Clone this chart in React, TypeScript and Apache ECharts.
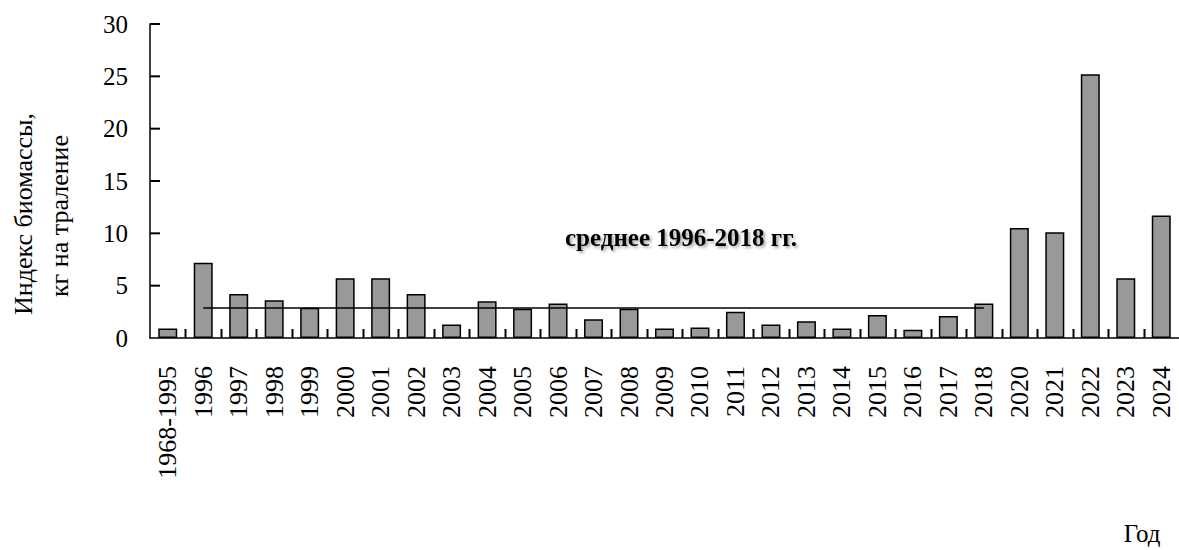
import React, { useEffect, useRef } from "react";
import * as echarts from "echarts";

const categories = [
  "1968-1995", "1996", "1997", "1998", "1999", "2000", "2001", "2002", "2003", "2004",
  "2005", "2006", "2007", "2008", "2009", "2010", "2011", "2012", "2013", "2014",
  "2015", "2016", "2017", "2018", "2020", "2021", "2022", "2023", "2024",
];
const biomass = [
  0.9, 7.2, 4.2, 3.6, 2.9, 5.7, 5.7, 4.2, 1.3, 3.5,
  2.8, 3.3, 1.8, 2.8, 0.9, 1.0, 2.5, 1.3, 1.6, 0.9,
  2.2, 0.8, 2.1, 3.3, 10.5, 10.1, 25.2, 5.7, 11.7,
];
const yTicks = [0, 5, 10, 15, 20, 25, 30];
const meanStart = "1996";
const meanEnd = "2018";
const meanLabel = "среднее 1996-2018 гг.";
const yTitle1 = "Индекс биомассы,";
const yTitle2 = "кг на траление";
const xTitle = "Год";

const FONT = "Liberation Serif";

export default function App() {
  const ref = useRef<HTMLDivElement>(null);
  useEffect(() => {
    if (!ref.current) return;
    const chart = echarts.init(ref.current, null, { renderer: "svg" });
    const i0 = categories.indexOf(meanStart);
    const i1 = categories.indexOf(meanEnd);
    const slice = biomass.slice(i0, i1 + 1);
    const mean = slice.reduce((a, b) => a + b, 0) / slice.length;

    const texts: any[] = [
      {
        type: "text",
        x: 23,
        y: 214,
        rotation: Math.PI / 2,
        style: { text: yTitle1, fontFamily: FONT, fontSize: 26, fill: "#000", align: "center", verticalAlign: "middle" },
      },
      {
        type: "text",
        x: 59,
        y: 216,
        rotation: Math.PI / 2,
        style: { text: yTitle2, fontFamily: FONT, fontSize: 26, fill: "#000", align: "center", verticalAlign: "middle" },
      },
      {
        type: "text",
        x: 681,
        y: 237,
        style: {
          text: meanLabel,
          fontFamily: FONT,
          fontSize: 25,
          fontWeight: "bold",
          fill: "#000",
          align: "center",
          verticalAlign: "middle",
          textShadowColor: "rgba(0,0,0,0.35)",
          textShadowBlur: 3,
          textShadowOffsetX: 2,
          textShadowOffsetY: 2,
        },
      },
      {
        type: "text",
        x: 1142,
        y: 533,
        style: { text: xTitle, fontFamily: FONT, fontSize: 25, fill: "#000", align: "center", verticalAlign: "middle" },
      },
    ];

    chart.setOption({
      animation: false,
      backgroundColor: "#ffffff",
      grid: { left: 150, top: 24, width: 1032, bottom: 212, containLabel: false },
      xAxis: {
        type: "category",
        data: categories,
        boundaryGap: true,
        axisLine: { show: true, lineStyle: { color: "#000", width: 1.5 } },
        axisTick: { show: false },
        axisLabel: {
          interval: 0,
          rotate: 90,
          margin: 28,
          color: "#000",
          fontFamily: FONT,
          fontSize: 26,
        },
        splitLine: { show: false },
      },
      yAxis: {
        type: "value",
        min: yTicks[0],
        max: yTicks[yTicks.length - 1],
        interval: 5,
        axisLine: { show: true, lineStyle: { color: "#000", width: 1.5 } },
        axisTick: { show: false },
        axisLabel: { color: "#000", fontFamily: FONT, fontSize: 25, margin: 22 },
        splitLine: { show: false },
      },
      series: [
        {
          type: "bar",
          data: biomass,
          barWidth: 19,
          itemStyle: { color: "#999999", borderColor: "#000", borderWidth: 1.5 },
          markLine: {
            silent: true,
            symbol: ["none", "none"],
            label: { show: false },
            lineStyle: { color: "#000", width: 1.5, type: "solid" },
            data: [[{ coord: [meanStart, mean] }, { coord: [meanEnd, mean] }]],
          },
        },
      ],
      graphic: texts,
    });

    // tick marks placed through the chart's own scales
    const c0 = chart.convertToPixel({ xAxisIndex: 0 }, 0) as number;
    const c1 = chart.convertToPixel({ xAxisIndex: 0 }, 1) as number;
    const band = c1 - c0;
    const y0 = chart.convertToPixel({ yAxisIndex: 0 }, 0) as number;
    const xLeft = c0 - band / 2;
    const ticks: any[] = [];
    for (let k = 1; k < categories.length; k++) {
      const x = Math.round(c0 + (k - 0.5) * band) + 0.5;
      ticks.push({
        type: "line",
        z: 100,
        shape: { x1: x, y1: y0, x2: x, y2: y0 - 9 },
        style: { stroke: "#000", lineWidth: 2 },
      });
    }
    yTicks.slice(1).forEach((v) => {
      const y = chart.convertToPixel({ yAxisIndex: 0 }, v) as number;
      ticks.push({
        type: "line",
        z: 100,
        shape: { x1: xLeft, y1: y, x2: xLeft + 10, y2: y },
        style: { stroke: "#000", lineWidth: 2 },
      });
    });
    chart.setOption({ graphic: [...texts, ...ticks] });

    return () => chart.dispose();
  }, []);
  return (
    <div
      ref={ref}
      style={{ position: "absolute", left: 0, top: 0, width: 1179, height: 550 }}
    />
  );
}
